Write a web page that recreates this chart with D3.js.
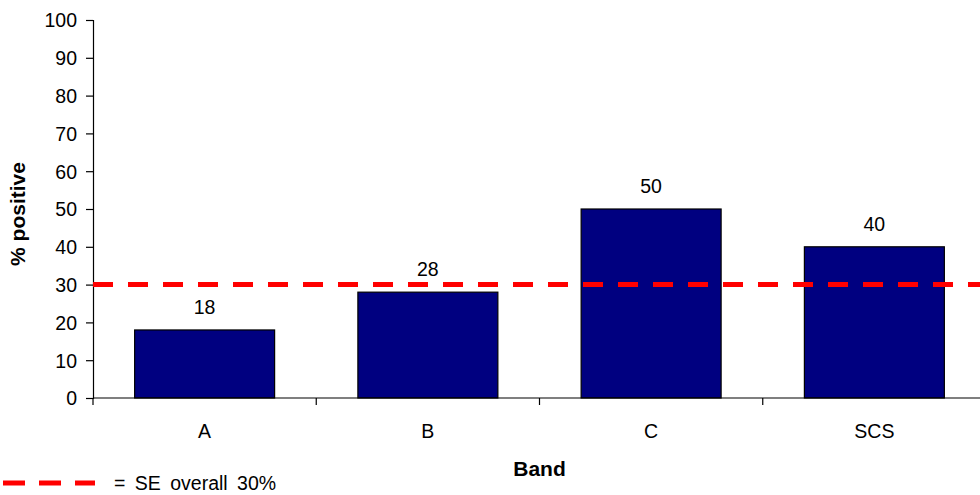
<!DOCTYPE html>
<html>
<head>
<meta charset="utf-8">
<script src="https://cdn.jsdelivr.net/npm/d3@7"></script>
<style>
  body { margin: 0; background: #fff; }
  svg text { font-family: "Liberation Sans", Arial, sans-serif; fill: #000; }
</style>
</head>
<body>
<svg id="chart" width="980" height="495"></svg>
<script>
// Share of positive results per band, with the overall reference rate
const categories = ["A", "B", "C", "SCS"];
const values = [18, 28, 50, 40];
const yTicks = [0, 10, 20, 30, 40, 50, 60, 70, 80, 90, 100];
const overallRate = 30;
const legendText = "= SE overall 30%";
const xTitle = "Band";
const yTitle = "% positive";

const svg = d3.select("#chart");
const margin = { left: 93, top: 20, right: 986, bottom: 398 };
const fontSize = "19.5px";
const titleSize = "21px";

const x = d3.scaleBand()
  .domain(categories)
  .range([margin.left, margin.right])
  .paddingInner(0.373)
  .paddingOuter(0.1865);

const y = d3.scaleLinear()
  .domain([0, 100])
  .range([margin.bottom, margin.top]);

// Bars
svg.append("g")
  .selectAll("rect")
  .data(values)
  .join("rect")
  .attr("x", (d, i) => x(categories[i]))
  .attr("y", d => y(d))
  .attr("width", x.bandwidth())
  .attr("height", d => y(0) - y(d))
  .attr("fill", "#000080")
  .attr("stroke", "#000")
  .attr("stroke-width", 1.2);

// Value labels
svg.append("g")
  .selectAll("text")
  .data(values)
  .join("text")
  .attr("x", (d, i) => x(categories[i]) + x.bandwidth() / 2)
  .attr("y", d => y(d) - 16)
  .attr("text-anchor", "middle")
  .style("font-size", fontSize)
  .text(d => d);

// Y axis
const yAxis = svg.append("g")
  .attr("transform", `translate(${margin.left},0)`)
  .call(d3.axisLeft(y).tickValues(yTicks).tickSize(7).tickPadding(9));
yAxis.selectAll("text").style("font-size", fontSize).attr("dy", "0.35em");
yAxis.select(".domain").attr("stroke", "#000").attr("stroke-width", 1.2);
yAxis.selectAll(".tick line").attr("stroke", "#000").attr("stroke-width", 1.2);

// X axis: ticks sit on category boundaries
const boundaries = categories.map(c => x(c) - x.step() * x.paddingInner() / 2);
const xAxisG = svg.append("g");
xAxisG.append("line")
  .attr("x1", margin.left).attr("x2", margin.right)
  .attr("y1", y(0)).attr("y2", y(0))
  .attr("stroke", "#000").attr("stroke-width", 1.2);
xAxisG.selectAll("line.tick")
  .data(boundaries.concat([margin.right]))
  .join("line")
  .attr("class", "tick")
  .attr("x1", d => d).attr("x2", d => d)
  .attr("y1", y(0)).attr("y2", y(0) + 7)
  .attr("stroke", "#000").attr("stroke-width", 1.2);
xAxisG.selectAll("text")
  .data(categories)
  .join("text")
  .attr("x", d => x(d) + x.bandwidth() / 2)
  .attr("y", y(0) + 40)
  .attr("text-anchor", "middle")
  .style("font-size", fontSize)
  .text(d => d);

// Overall reference line
svg.append("line")
  .attr("x1", margin.left).attr("x2", 980)
  .attr("y1", y(overallRate)).attr("y2", y(overallRate))
  .attr("stroke", "#ff0000")
  .attr("stroke-width", 5)
  .attr("stroke-dasharray", "20,15");

// Axis titles
svg.append("text")
  .attr("x", (margin.left + margin.right) / 2)
  .attr("y", 476)
  .attr("text-anchor", "middle")
  .style("font-size", titleSize)
  .style("font-weight", "bold")
  .text(xTitle);

svg.append("text")
  .attr("transform", `translate(25,${(margin.top + margin.bottom) / 2 + 5}) rotate(-90)`)
  .attr("text-anchor", "middle")
  .style("font-size", titleSize)
  .style("font-weight", "bold")
  .text(yTitle);

// Legend
svg.append("line")
  .attr("x1", 3).attr("x2", 95)
  .attr("y1", 483).attr("y2", 483)
  .attr("stroke", "#ff0000")
  .attr("stroke-width", 5)
  .attr("stroke-dasharray", "22,14");
svg.append("text")
  .attr("x", 114)
  .attr("y", 490)
  .style("font-size", fontSize)
  .style("word-spacing", "4px")
  .text(legendText);
</script>
</body>
</html>
